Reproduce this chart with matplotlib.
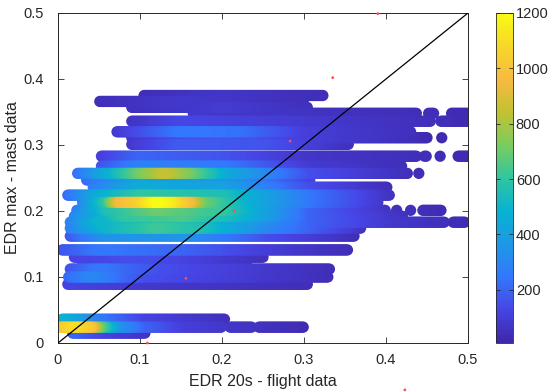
import numpy as np
import matplotlib
matplotlib.use("Agg")
import matplotlib.pyplot as plt
from matplotlib.colors import LinearSegmentedColormap, Normalize

plt.rcParams["font.family"] = ["Liberation Sans", "DejaVu Sans"]

# parula-like colour map
parula_colors = [
    (0.2422, 0.1504, 0.6603), (0.2770, 0.2700, 0.9000), (0.2000, 0.4700, 0.9900),
    (0.1100, 0.6000, 0.9000), (0.0300, 0.7000, 0.8200), (0.1900, 0.7750, 0.6300),
    (0.4800, 0.8000, 0.3700), (0.7600, 0.7600, 0.2000), (0.9700, 0.7300, 0.2500),
    (0.9700, 0.8400, 0.1600), (0.9769, 0.9839, 0.0805),
]
parula = LinearSegmentedColormap.from_list("parula", parula_colors)

# Each band: mast EDR level, flight EDR ranges covered, and point-density knots (x, count)
band_y = [0.375, 0.366, 0.357, 0.348, 0.336, 0.320, 0.311, 0.301, 0.283, 0.268,
          0.257, 0.247, 0.236, 0.224, 0.213, 0.201, 0.192, 0.183, 0.174, 0.162,
          0.141, 0.130, 0.122, 0.112, 0.100, 0.089, 0.036, 0.024, 0.015]

band_ranges = [
    [(0.105, 0.322)],
    [(0.051, 0.300)],
    [(0.090, 0.305)],
    [(0.165, 0.437), (0.452, 0.458), (0.480, 0.499)],
    [(0.090, 0.455), (0.467, 0.500)],
    [(0.072, 0.430)],
    [(0.090, 0.450), (0.468, 0.468)],
    [(0.090, 0.355)],
    [(0.053, 0.437), (0.447, 0.449), (0.466, 0.466), (0.488, 0.505)],
    [(0.053, 0.420)],
    [(0.024, 0.427), (0.440, 0.440)],
    [(0.035, 0.307)],
    [(0.043, 0.401)],
    [(0.012, 0.405)],
    [(0.030, 0.390)],
    [(0.023, 0.400), (0.413, 0.413), (0.430, 0.430), (0.445, 0.466)],
    [(0.020, 0.420)],
    [(0.015, 0.472), (0.482, 0.496)],
    [(0.015, 0.370)],
    [(0.015, 0.362)],
    [(0.005, 0.354)],
    [(0.020, 0.250)],
    [(0.030, 0.230)],
    [(0.015, 0.332)],
    [(0.013, 0.330)],
    [(0.012, 0.305)],
    [(0.005, 0.204)],
    [(0.003, 0.200), (0.210, 0.237), (0.245, 0.300)],
    [(0.018, 0.106)],
]

band_density = [
    [(0.10, 40), (0.20, 70), (0.32, 40)],
    [(0.05, 40), (0.15, 80), (0.30, 40)],
    [(0.09, 50), (0.20, 90), (0.30, 50)],
    [(0.16, 80), (0.30, 60), (0.50, 30)],
    [(0.09, 60), (0.15, 130), (0.25, 100), (0.50, 30)],
    [(0.07, 80), (0.15, 250), (0.22, 230), (0.30, 100), (0.45, 40)],
    [(0.09, 60), (0.20, 150), (0.45, 30)],
    [(0.09, 80), (0.15, 180), (0.25, 160), (0.35, 50)],
    [(0.05, 100), (0.10, 200), (0.20, 160), (0.30, 70), (0.50, 30)],
    [(0.05, 150), (0.10, 280), (0.20, 250), (0.30, 90), (0.42, 40)],
    [(0.02, 200), (0.06, 450), (0.10, 700), (0.13, 850), (0.16, 700), (0.20, 450), (0.30, 150), (0.43, 40)],
    [(0.03, 200), (0.10, 400), (0.20, 350), (0.30, 120)],
    [(0.04, 250), (0.10, 450), (0.20, 400), (0.30, 150), (0.40, 40)],
    [(0.01, 200), (0.05, 450), (0.10, 600), (0.20, 550), (0.30, 250), (0.40, 60)],
    [(0.03, 300), (0.06, 600), (0.075, 950), (0.10, 1050), (0.12, 1200), (0.135, 1150),
     (0.16, 950), (0.175, 700), (0.22, 500), (0.30, 250), (0.39, 80)],
    [(0.02, 250), (0.06, 550), (0.12, 700), (0.20, 600), (0.25, 400), (0.30, 200), (0.40, 60), (0.47, 30)],
    [(0.02, 300), (0.08, 600), (0.15, 650), (0.22, 500), (0.30, 200), (0.42, 50)],
    [(0.01, 250), (0.05, 500), (0.15, 550), (0.22, 400), (0.30, 200), (0.40, 80), (0.50, 30)],
    [(0.01, 250), (0.06, 500), (0.12, 620), (0.17, 560), (0.25, 300), (0.37, 60)],
    [(0.01, 150), (0.06, 350), (0.15, 350), (0.25, 150), (0.36, 40)],
    [(0.00, 150), (0.05, 250), (0.15, 200), (0.25, 100), (0.35, 40)],
    [(0.02, 120), (0.10, 150), (0.25, 50)],
    [(0.03, 100), (0.10, 130), (0.23, 50)],
    [(0.01, 150), (0.05, 250), (0.12, 150), (0.33, 40)],
    [(0.01, 200), (0.04, 300), (0.10, 150), (0.33, 40)],
    [(0.01, 120), (0.10, 80), (0.30, 40)],
    [(0.00, 500), (0.02, 400), (0.05, 250), (0.10, 120), (0.20, 50)],
    [(0.00, 1000), (0.02, 1100), (0.04, 1000), (0.05, 700), (0.07, 350), (0.10, 200), (0.15, 100), (0.30, 30)],
    [(0.018, 200), (0.05, 120), (0.106, 60)],
]

# single points marked in red
red_x = [0.390, 0.335, 0.283, 0.215, 0.156, 0.109, 0.423]
red_y = [0.499, 0.402, 0.306, 0.200, 0.098, 0.000, -0.071]

x_ticks = [0, 0.1, 0.2, 0.3, 0.4, 0.5]
y_ticks = [0, 0.1, 0.2, 0.3, 0.4, 0.5]
cbar_ticks = [200, 400, 600, 800, 1000, 1200]
c_min, c_max = 8, 1200

# expand bands into individual flight/mast points
step = 0.002
px, py, pc = [], [], []
for y, ranges, knots in zip(band_y, band_ranges, band_density):
    kx = [k[0] for k in knots]
    kd = [k[1] for k in knots]
    for x0, x1 in ranges:
        xs = np.arange(x0, x1 + step / 2, step) if x1 > x0 else np.array([x0])
        px.append(xs)
        py.append(np.full_like(xs, y))
        pc.append(np.interp(xs, kx, kd))
px = np.concatenate(px)
py = np.concatenate(py)
pc = np.concatenate(pc)
order = np.argsort(pc)

fig = plt.figure(figsize=(5.53, 3.92), dpi=100)
ax = fig.add_axes([58 / 553, 49 / 392, 410 / 553, 330 / 392])
cax = fig.add_axes([496 / 553, 49 / 392, 17 / 553, 330 / 392])

text_col = (0.15, 0.15, 0.15)
sc = ax.scatter(px[order], py[order], c=pc[order], s=66, cmap=parula,
                norm=Normalize(c_min, c_max), edgecolors="none", zorder=2)
ax.plot([0, 0.5], [0, 0.5], color="black", lw=0.9, zorder=3)
ax.scatter(red_x, red_y, s=4, color=(1.0, 0.3, 0.35), edgecolors="none",
           zorder=4, clip_on=False)

ax.set_xlim(0, 0.5)
ax.set_ylim(0, 0.5)
ax.set_xticks(x_ticks)
ax.set_yticks(y_ticks)
ax.set_xticklabels([f"{t:g}" for t in x_ticks])
ax.set_yticklabels([f"{t:g}" for t in y_ticks])
ax.tick_params(direction="in", length=4, width=0.6, top=True, right=True,
               labelsize=10.5, colors=text_col)
ax.tick_params(axis="x", pad=7)
ax.tick_params(axis="y", pad=10)
for s in ax.spines.values():
    s.set_color(text_col)
    s.set_linewidth(0.7)
ax.set_xlabel("EDR 20s - flight data", fontsize=11.5, color=text_col, labelpad=5)
ax.set_ylabel("EDR max - mast data", fontsize=11.5, color=text_col, labelpad=3)

cb = fig.colorbar(sc, cax=cax)
cb.set_ticks(cbar_ticks)
cb.ax.tick_params(direction="in", length=3, width=0.6, labelsize=10.5,
                  colors=text_col, left=True, right=True, pad=2)
cb.outline.set_edgecolor(text_col)
cb.outline.set_linewidth(0.6)

fig.savefig("out.png", dpi=100)
